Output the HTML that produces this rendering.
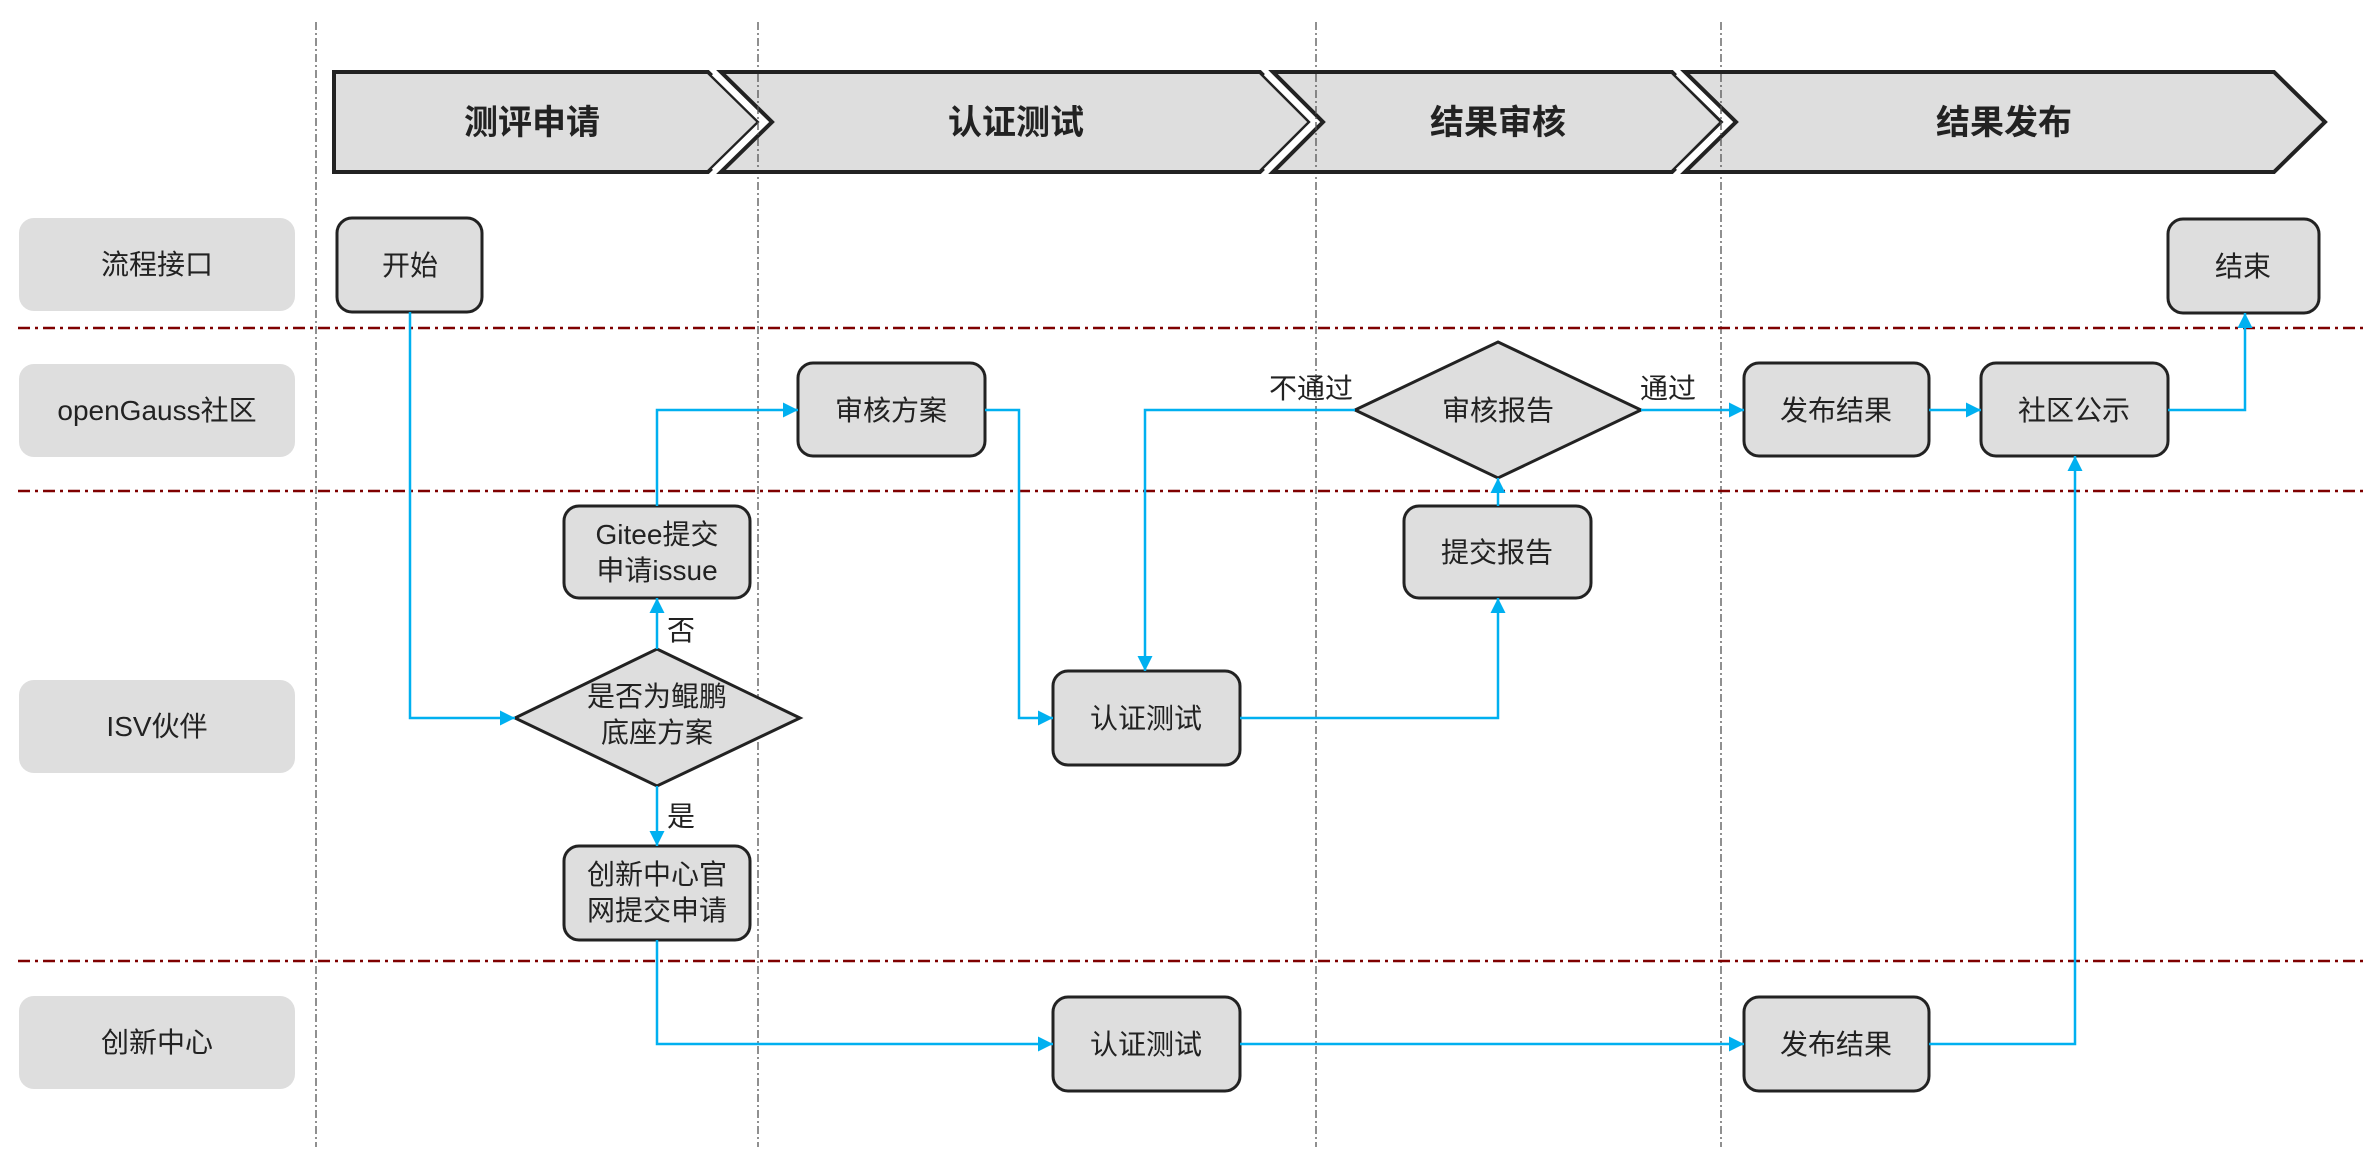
<!DOCTYPE html>
<html><head><meta charset="utf-8"><style>
html,body{margin:0;padding:0;background:#fff}
svg{display:block}
text{font-family:"Liberation Sans","Noto Sans CJK SC",sans-serif;fill:#222}
</style></head><body>
<svg width="2363" height="1171" viewBox="0 0 2363 1171" xmlns="http://www.w3.org/2000/svg">
<defs>
<marker id="a" viewBox="0 0 10 10" refX="10" refY="5" markerWidth="6" markerHeight="6" orient="auto" markerUnits="strokeWidth">
<path d="M0,0 L10,5 L0,10 z" fill="#00b0f0"/></marker>
</defs>
<!-- vertical dashed -->
<g stroke="#555" stroke-width="1.3" stroke-dasharray="8 3 2 3">
<line x1="316" y1="22" x2="316" y2="1147"/>
<line x1="758" y1="22" x2="758" y2="1147"/>
<line x1="1316" y1="22" x2="1316" y2="1147"/>
<line x1="1721" y1="22" x2="1721" y2="1147"/>
</g>
<!-- lane dividers -->
<g stroke="#7f0000" stroke-width="2.5" stroke-dasharray="12 5 3 5">
<line x1="18" y1="328" x2="2363" y2="328"/>
<line x1="18" y1="491" x2="2363" y2="491"/>
<line x1="18" y1="961" x2="2363" y2="961"/>
</g>
<!-- chevrons -->
<g stroke-linejoin="miter">
<polygon points="334,72 708,72 759,122 708,172 334,172" fill="#dedede" stroke="#222" stroke-width="4"/>
<polyline points="715,72 766,122 715,172" fill="none" stroke="#fff" stroke-width="9"/>
<polygon points="721,72 1260,72 1310,122 1260,172 721,172 772,122" fill="#dedede" stroke="#222" stroke-width="4"/>
<polyline points="1267,72 1317,122 1267,172" fill="none" stroke="#fff" stroke-width="9"/>
<polygon points="1273,72 1672,72 1722,122 1672,172 1273,172 1323,122" fill="#dedede" stroke="#222" stroke-width="4"/>
<polyline points="1679,72 1730,122 1679,172" fill="none" stroke="#fff" stroke-width="9"/>
<polygon points="1685,72 2274,72 2325,122 2274,172 1685,172 1736,122" fill="#dedede" stroke="#222" stroke-width="4"/>
</g>
<g stroke="#555" stroke-width="1.3" stroke-dasharray="8 3 2 3">
<line x1="758" y1="74" x2="758" y2="170"/>
<line x1="1316" y1="74" x2="1316" y2="170"/>
<line x1="1721" y1="74" x2="1721" y2="170"/>
</g>
<g font-size="34" font-weight="bold" text-anchor="middle">
<text x="532" y="134">测评申请</text>
<text x="1016" y="134">认证测试</text>
<text x="1498" y="134">结果审核</text>
<text x="2004" y="134">结果发布</text>
</g>
<!-- lane labels -->
<g fill="#dedede">
<rect x="19" y="218" width="276" height="93" rx="15"/>
<rect x="19" y="364" width="276" height="93" rx="15"/>
<rect x="19" y="680" width="276" height="93" rx="15"/>
<rect x="19" y="996" width="276" height="93" rx="15"/>
</g>
<g font-size="28" text-anchor="middle">
<text x="157" y="274">流程接口</text>
<text x="157" y="420">openGauss社区</text>
<text x="157" y="736">ISV伙伴</text>
<text x="157" y="1052">创新中心</text>
</g>
<!-- nodes -->
<g fill="#dedede" stroke="#222" stroke-width="3">
<rect x="337" y="218" width="145" height="94" rx="15"/>
<rect x="798" y="363" width="187" height="93" rx="15"/>
<rect x="564" y="506" width="186" height="92" rx="15"/>
<rect x="1053" y="671" width="187" height="94" rx="15"/>
<rect x="564" y="846" width="186" height="94" rx="15"/>
<rect x="1053" y="997" width="187" height="94" rx="15"/>
<rect x="1744" y="997" width="185" height="94" rx="15"/>
<rect x="1404" y="506" width="187" height="92" rx="15"/>
<rect x="1744" y="363" width="185" height="93" rx="15"/>
<rect x="1981" y="363" width="187" height="93" rx="15"/>
<rect x="2168" y="219" width="151" height="94" rx="15"/>
<polygon points="657,649 800,718 657,786 515,718"/>
<polygon points="1498,342 1641,410 1498,478 1355,410"/>
</g>
<g font-size="28" text-anchor="middle">
<text x="410" y="275">开始</text>
<text x="891" y="420">审核方案</text>
<text x="657" y="544">Gitee提交</text>
<text x="657" y="580">申请issue</text>
<text x="1146" y="728">认证测试</text>
<text x="657" y="884">创新中心官</text>
<text x="657" y="920">网提交申请</text>
<text x="1146" y="1054">认证测试</text>
<text x="1836" y="1054">发布结果</text>
<text x="1497" y="562">提交报告</text>
<text x="1836" y="420">发布结果</text>
<text x="2074" y="420">社区公示</text>
<text x="2243" y="276">结束</text>
<text x="657" y="706">是否为鲲鹏</text>
<text x="657" y="742">底座方案</text>
<text x="1498" y="420">审核报告</text>
<text x="1311" y="398">不通过</text>
<text x="1668" y="398">通过</text>
<text x="681" y="640">否</text>
<text x="681" y="826">是</text>
</g>
<!-- connectors -->
<g fill="none" stroke="#00b0f0" stroke-width="2.5" marker-end="url(#a)">
<polyline points="410,312 410,718 515,718"/>
<polyline points="657,649 657,598"/>
<polyline points="657,506 657,410 798,410"/>
<polyline points="985,410 1019,410 1019,718 1053,718"/>
<polyline points="1355,410 1145,410 1145,671"/>
<polyline points="1240,718 1498,718 1498,598"/>
<polyline points="1498,506 1498,478"/>
<polyline points="1641,410 1744,410"/>
<polyline points="1929,410 1981,410"/>
<polyline points="2168,410 2245,410 2245,313"/>
<polyline points="657,786 657,846"/>
<polyline points="657,940 657,1044 1053,1044"/>
<polyline points="1240,1044 1744,1044"/>
<polyline points="1929,1044 2075,1044 2075,456"/>
</g>
</svg>
</body></html>
